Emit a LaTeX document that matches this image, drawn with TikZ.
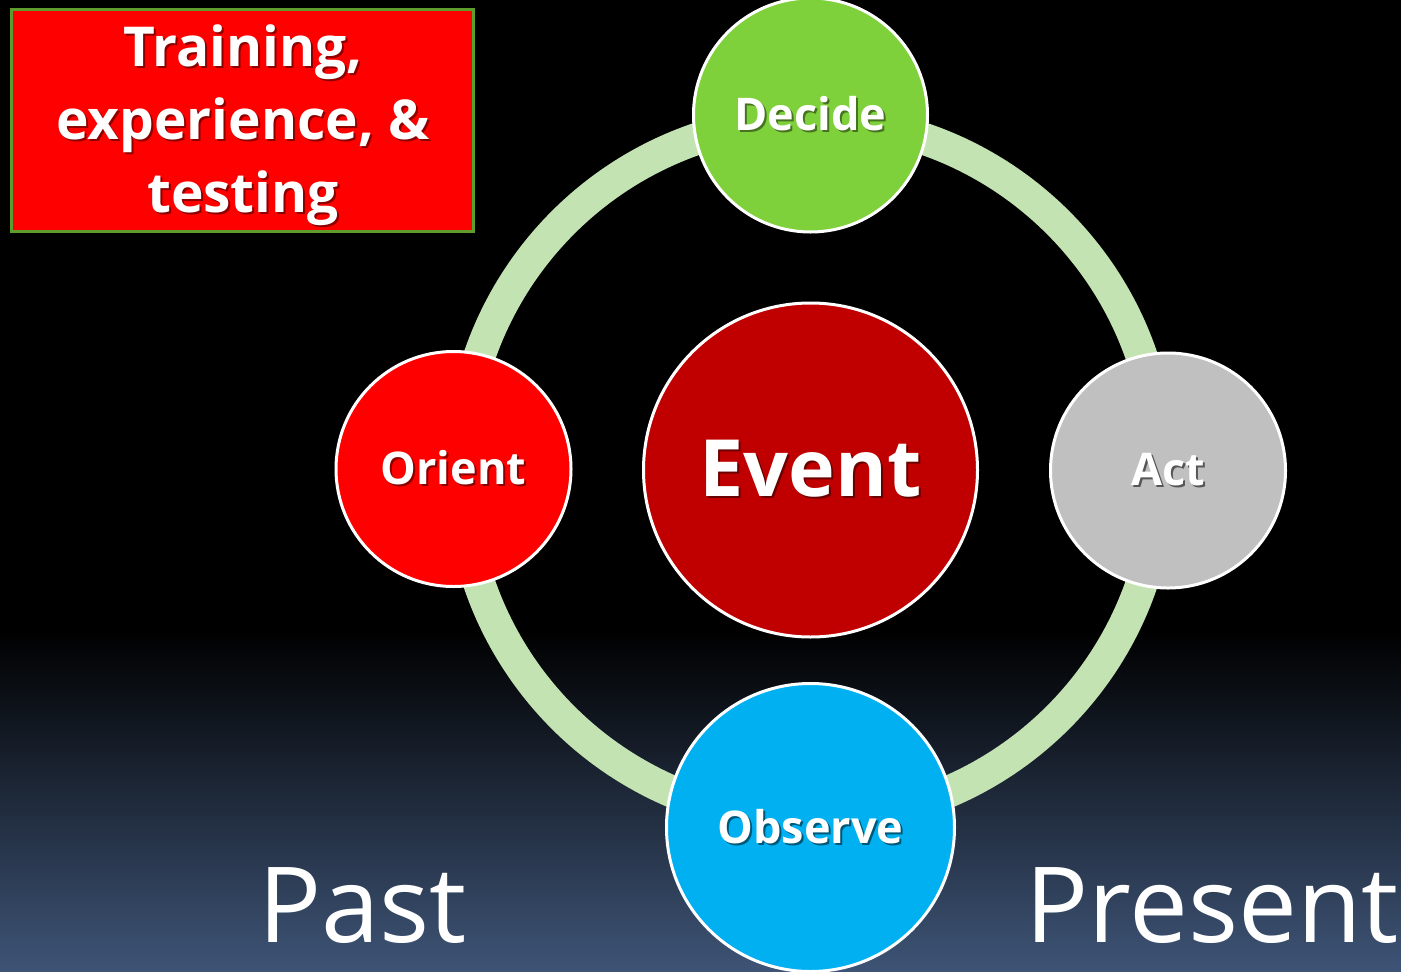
\documentclass[tikz,border=0pt]{standalone}
\usepackage{fontspec}
\setmainfont{Open Sans}
\definecolor{ringc}{HTML}{C4E3B3}
\definecolor{bgbot}{RGB}{62,84,118}
\definecolor{decidec}{HTML}{7FD13B}
\definecolor{actc}{HTML}{C0C0C0}
\definecolor{observec}{HTML}{00B0F0}
\definecolor{orientc}{HTML}{FF0000}
\definecolor{eventc}{HTML}{C00000}
\definecolor{boxborder}{HTML}{5E9C2C}
\newcommand\shd[2]{\leavevmode\rlap{\kern2pt\raisebox{-2pt}{\textcolor{#1}{#2}}}#2}
\begin{document}
\begin{tikzpicture}[x=1pt,y=-1pt,
  phase/.style={circle,draw=white,line width=3pt,inner sep=0pt,text=white,
    font=\bfseries\fontsize{45}{54}\selectfont},
  ring/.style={draw=ringc,line width=32pt},
  bigword/.style={text=white,inner sep=0pt,font=\fontsize{105}{120}\selectfont}]
\useasboundingbox (0,0) rectangle (1401,972);
\fill[black] (0,0) rectangle (1401,972);
\fill[top color=black,bottom color=bgbot] (0,630) rectangle (1401,972);
\coordinate (ctr) at (810.5,470);
\draw[ring] (ctr) circle (350);
\node[phase,fill=eventc,minimum size=334pt,font=\bfseries\fontsize{79}{90}\selectfont] (event) at (ctr) {\shd{eventc!55!black}{Event}};
\node[phase,fill=decidec,minimum size=234pt] (decide) at (810.5,115) {\raisebox{2pt}{\shd{decidec!55!black}{Decide}}};
\node[phase,fill=actc,minimum size=235pt] (act) at (1168,470.5) {\shd{actc!45!black}{Act}};
\node[phase,fill=orientc,minimum size=235pt] (orient) at (453.5,469) {\shd{orientc!55!black}{Orient}};
\node[phase,fill=observec,minimum size=288pt] (observe) at (810.5,827.5) {\shd{observec!50!black}{Observe}};
\node[draw=boxborder,line width=3pt,fill=red,minimum width=462pt,minimum height=222pt,inner sep=0pt] (box) at (242.5,120.5) {};
\node[text=white,align=center,inner sep=0pt,font=\bfseries\fontsize{55}{73}\selectfont] (boxtext) at (243,126)
  {\shd{red!55!black}{Training,}\\\shd{red!55!black}{experience, \&}\\\shd{red!55!black}{testing}};
\node[bigword,anchor=base west] (past) at (258,942) {Past};
\node[bigword,anchor=base west] (present) at (1025,942) {Present};
\end{tikzpicture}
\end{document}
